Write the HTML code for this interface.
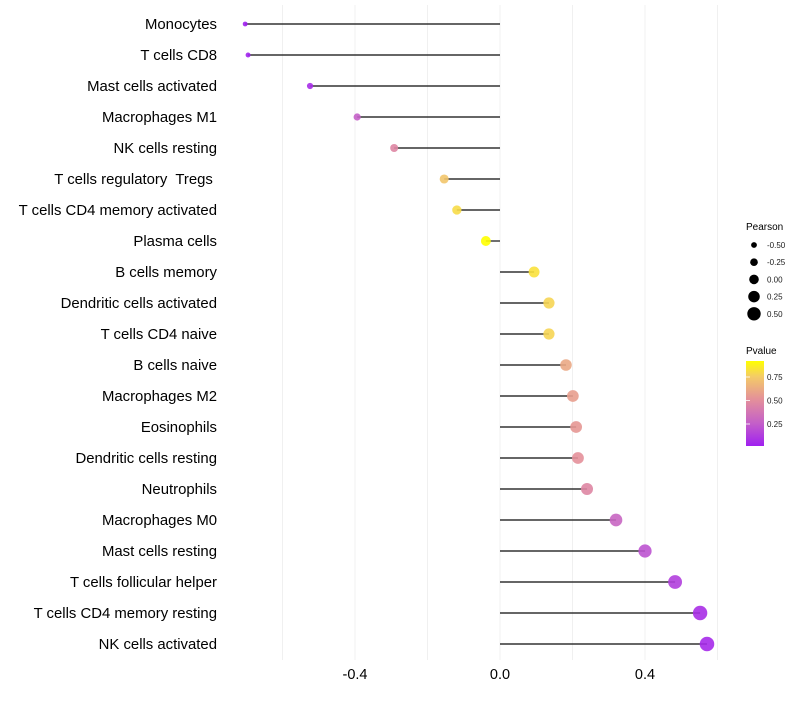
<!DOCTYPE html>
<html><head><meta charset="utf-8"><style>
body{margin:0;background:#fff;font-family:"Liberation Sans",sans-serif}
text{white-space:pre}
</style></head><body>
<svg id="chart" width="800" height="700" xmlns="http://www.w3.org/2000/svg">
<defs><linearGradient id="pg" x1="0" y1="1" x2="0" y2="0">
<stop offset="0" stop-color="#a020f0"/><stop offset="0.27" stop-color="#c460c8"/><stop offset="0.55" stop-color="#e4909a"/><stop offset="0.82" stop-color="#f4cc66"/><stop offset="1" stop-color="#ffff00"/></linearGradient></defs>
<g id="grid"></g><g id="marks"></g><g id="labels"></g>
<g>
<text x="746" y="230" font-size="10" fill="#000">Pearson</text>
<g id="sizeLegend"></g>
<text x="746" y="354" font-size="10" fill="#000">Pvalue</text>
<rect x="746" y="361" width="18" height="85" fill="url(#pg)"/>
<g id="cbTicks"></g>
</g>
</svg>
<script>
const categories=["Monocytes","T cells CD8","Mast cells activated","Macrophages M1","NK cells resting","T cells regulatory  Tregs ","T cells CD4 memory activated","Plasma cells","B cells memory","Dendritic cells activated","T cells CD4 naive","B cells naive","Macrophages M2","Eosinophils","Dendritic cells resting","Neutrophils","Macrophages M0","Mast cells resting","T cells follicular helper","T cells CD4 memory resting","NK cells activated"];
const pearson=[-0.703,-0.695,-0.524,-0.394,-0.292,-0.154,-0.119,-0.039,0.094,0.135,0.135,0.182,0.201,0.21,0.215,0.24,0.32,0.40,0.483,0.552,0.571];
const pvalue=[0.0,0.01,0.05,0.25,0.45,0.72,0.8,0.92,0.82,0.78,0.78,0.6,0.56,0.53,0.5,0.45,0.28,0.2,0.12,0.06,0.04];
const xTicks=[-0.4,0.0,0.4];
const xTickLabels=["-0.4","0.0","0.4"];
const gridVals=[-0.6,-0.4,-0.2,0,0.2,0.4,0.6];
const sizeLegendVals=[-0.5,-0.25,0,0.25,0.5];
const sizeLegendLabels=["-0.50","-0.25","0.00","0.25","0.50"];
const cbVals=[0.25,0.5,0.75];
const cbLabels=["0.25","0.50","0.75"];

const NS="http://www.w3.org/2000/svg";
const x=v=>500+v*362.5;
const y=i=>24+i*31.0;
const r=v=>5.1+3.8*v;
const cy=p=>447.5-p*94;
const stops=[[0,[160,32,240]],[0.25,[196,96,200]],[0.5,[228,144,154]],[0.75,[244,204,102]],[0.92,[255,255,0]]];
function col(p){p=Math.max(0,Math.min(0.92,p));for(let k=1;k<stops.length;k++){if(p<=stops[k][0]){const a=stops[k-1],b=stops[k];const t=(p-a[0])/(b[0]-a[0]);return "rgb("+a[1].map((c,j)=>Math.round(c+(b[1][j]-c)*t)).join(",")+")";}}return "rgb(255,255,0)";}
function mk(tag,attrs,parent){const e=document.createElementNS(NS,tag);for(const k in attrs)e.setAttribute(k,attrs[k]);parent.appendChild(e);return e;}
const grid=document.getElementById('grid'),marks=document.getElementById('marks'),labels=document.getElementById('labels');
gridVals.forEach(v=>{const l=mk('line',{x1:x(v),x2:x(v),y1:5,y2:660,stroke:'#f0f0f0','stroke-width':1},grid);

});
xTicks.forEach((v,i)=>{const t=mk('text',{x:x(v),y:679,'font-size':14.5,'text-anchor':'middle',fill:'#000'},labels);t.textContent=xTickLabels[i];

});
categories.forEach((c,i)=>{
const t=mk('text',{x:217,y:y(i)+5,'font-size':14.9,'text-anchor':'end',fill:'#000'},labels);t.textContent=c;


const s=mk('line',{x1:x(0),x2:x(pearson[i]),y1:y(i),y2:y(i),stroke:'#333','stroke-width':1.4},marks);


const d=mk('circle',{cx:x(pearson[i]),cy:y(i),r:r(pearson[i]),fill:col(pvalue[i]),'fill-opacity':0.9},marks);


});
const sl=document.getElementById('sizeLegend');
sizeLegendVals.forEach((v,i)=>{const yy=245+i*17.2;
const c=mk('circle',{cx:754,cy:yy,r:r(v)-0.3,fill:'#000'},sl);


const t=mk('text',{x:767,y:yy+3,'font-size':8,fill:'#1a1a1a'},sl);t.textContent=sizeLegendLabels[i];

});
const cb=document.getElementById('cbTicks');
cbVals.forEach((v,i)=>{const t=mk('text',{x:767,y:cy(v)+3,'font-size':8,fill:'#1a1a1a'},cb);t.textContent=cbLabels[i];


const l=mk('line',{x1:746,x2:750,y1:cy(v),y2:cy(v),stroke:'#fff','stroke-width':0.8},cb);

});
</script>
</body></html>
